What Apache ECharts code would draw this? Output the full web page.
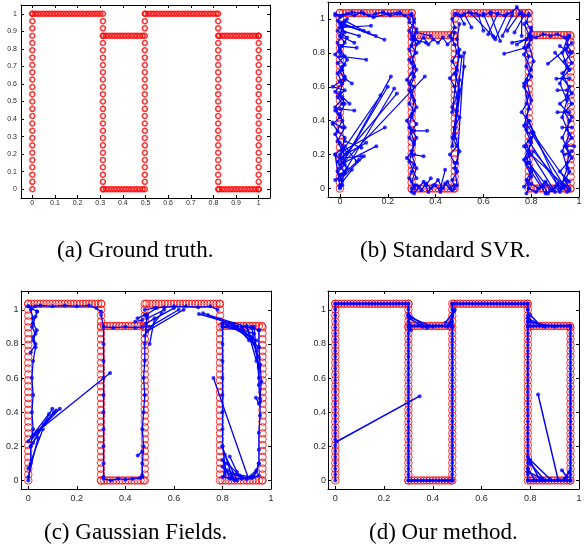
<!DOCTYPE html>
<html><head><meta charset="utf-8">
<script src="https://cdn.jsdelivr.net/npm/echarts@6/dist/echarts.min.js"></script>
<style>html,body{margin:0;padding:0;background:#fff}#c{width:585px;height:558px}</style>
</head><body><div id="c"></div>
<script>
// ---------- tick labels ----------
const ticksA = [0, 0.1, 0.2, 0.3, 0.4, 0.5, 0.6, 0.7, 0.8, 0.9, 1];
const ticksB = [0, 0.2, 0.4, 0.6, 0.8, 1];

// ---------- captions ----------
const captions = ['(a) Ground truth.', '(b) Standard SVR.', '(c) Gaussian Fields.', '(d) Our method.'];

// ---------- (a) ground truth point set ----------
const gtColX = [0, 0.312, 0.497, 0.821, 1.0];
const gtColTop = [1, 1, 1, 1, 0.875];
const gtColY = [0, 0.042, 0.083, 0.125, 0.167, 0.208, 0.25, 0.292, 0.333, 0.375, 0.417, 0.458, 0.5,
  0.542, 0.583, 0.625, 0.667, 0.708, 0.75, 0.792, 0.833, 0.875, 0.917, 0.958, 1];
const rowX = [0, 0.0125, 0.025, 0.0375, 0.05, 0.0625, 0.075, 0.0875, 0.1, 0.1125, 0.125, 0.1375, 0.15,
  0.1625, 0.175, 0.1875, 0.2, 0.2125, 0.225, 0.2375, 0.25, 0.2625, 0.275, 0.2875, 0.3, 0.3125, 0.325,
  0.3375, 0.35, 0.3625, 0.375, 0.3875, 0.4, 0.4125, 0.425, 0.4375, 0.45, 0.4625, 0.475, 0.4875, 0.5,
  0.5125, 0.525, 0.5375, 0.55, 0.5625, 0.575, 0.5875, 0.6, 0.6125, 0.625, 0.6375, 0.65, 0.6625, 0.675,
  0.6875, 0.7, 0.7125, 0.725, 0.7375, 0.75, 0.7625, 0.775, 0.7875, 0.8, 0.8125, 0.825, 0.8375, 0.85,
  0.8625, 0.875, 0.8875, 0.9, 0.9125, 0.925, 0.9375, 0.95, 0.9625, 0.975, 0.9875, 1];
// rows: [y, xFrom, xTo]
const gtRows = [[1, 0, 0.312], [0.875, 0.312, 0.497], [0, 0.312, 0.497], [1, 0.497, 0.821], [0.875, 0.821, 1], [0, 0.821, 1]];

// ---------- (b)(c)(d) red template ----------
const fitColX = [0, 0.30, 0.48, 0.79, 0.965];
const fitColTop = [1.035, 1.035, 1.035, 1.035, 0.905];
const fitColY = [0, 0.035, 0.069, 0.104, 0.138, 0.173, 0.207, 0.242, 0.276, 0.311, 0.345, 0.38, 0.414,
  0.449, 0.483, 0.518, 0.552, 0.587, 0.621, 0.656, 0.69, 0.725, 0.759, 0.794, 0.828, 0.863, 0.897,
  0.932, 0.966, 1.001, 1.035];
const fitRows = [[1.035, 0, 0.30], [0.905, 0.30, 0.48], [0, 0.30, 0.48], [1.035, 0.48, 0.79], [0.905, 0.79, 0.965], [0, 0.79, 0.965]];

// ---------- (b) Standard SVR blue ----------
const svrPaths = [
  [[0.0,0.0],[0.01,0.05],[-0.01,0.1],[0.02,0.14],[-0.02,0.2],[0.01,0.24],[0.02,0.3],[-0.01,0.34],[-0.03,0.38],[0.0,0.42],[-0.02,0.46],[0.01,0.5],[-0.01,0.54],[0.02,0.58],[-0.03,0.6],[0.0,0.63],[0.02,0.66],[0.01,0.7],[-0.01,0.74],[0.02,0.78],[0.0,0.82],[0.02,0.86],[0.0,0.9],[0.01,0.95],[-0.01,0.99],[0.01,1.02],[-0.02,1.03]],
  [[0.01,0.02],[0.0,0.08],[0.03,0.12],[0.0,0.18],[0.01,0.22],[-0.01,0.28],[0.02,0.36],[0.0,0.44],[0.02,0.5],[0.0,0.56],[0.01,0.62],[-0.01,0.68],[0.01,0.72],[0.03,0.76],[0.0,0.8],[-0.01,0.86],[0.02,0.92],[0.0,0.97],[0.03,1.0]],
  [[-0.02,0.05],[0.02,0.09],[-0.01,0.16],[0.03,0.21],[0.0,0.27],[-0.02,0.32],[0.01,0.4],[-0.02,0.48],[0.01,0.53],[-0.02,0.57],[0.02,0.64],[0.0,0.69],[0.02,0.73],[-0.02,0.79],[0.01,0.84],[0.03,0.89],[-0.01,0.93],[0.02,0.98]],
  [[-0.02,1.02],[0.03,1.03],[0.06,1.02],[0.09,1.04],[0.12,1.02],[0.15,1.03],[0.18,1.04],[0.21,1.02],[0.24,1.03],[0.27,1.02],[0.30,1.03]],
  [[0.0,1.01],[0.05,1.04],[0.1,1.03],[0.14,1.01],[0.2,1.03],[0.25,1.04],[0.29,1.0]],
  [[0.30,1.02],[0.31,0.98],[0.29,0.93],[0.31,0.88],[0.30,0.84],[0.32,0.8],[0.29,0.76],[0.31,0.72],[0.30,0.68],[0.28,0.64],[0.31,0.6],[0.30,0.55],[0.29,0.5],[0.31,0.46],[0.30,0.42],[0.32,0.38],[0.30,0.34],[0.29,0.3],[0.31,0.26],[0.30,0.22],[0.28,0.18],[0.31,0.14],[0.30,0.1],[0.29,0.06],[0.31,0.02],[0.30,-0.02]],
  [[0.31,1.0],[0.3,0.9],[0.32,0.85],[0.3,0.74],[0.31,0.66],[0.29,0.58],[0.31,0.52],[0.3,0.44],[0.29,0.36],[0.31,0.28],[0.3,0.2],[0.32,0.12],[0.3,0.04],[0.31,0.0]],
  [[0.29,0.98],[0.32,0.94],[0.29,0.82],[0.32,0.7],[0.29,0.62],[0.32,0.48],[0.28,0.4],[0.32,0.3],[0.29,0.16],[0.32,0.06]],
  [[0.31,0.9],[0.33,0.86],[0.35,0.89],[0.37,0.85],[0.39,0.88],[0.41,0.86],[0.43,0.89],[0.45,0.85],[0.47,0.88],[0.48,0.92]],
  [[0.30,0.0],[0.32,0.02],[0.34,-0.01],[0.36,0.03],[0.38,0.0],[0.4,0.02],[0.42,-0.02],[0.44,0.03],[0.46,0.0],[0.48,0.02]],
  [[0.31,-0.03],[0.33,0.01],[0.35,0.04],[0.37,-0.02],[0.39,0.02],[0.41,0.05],[0.43,0.0],[0.45,0.04],[0.47,-0.01]],
  [[0.48,0.0],[0.47,0.05],[0.49,0.1],[0.48,0.15],[0.46,0.2],[0.49,0.25],[0.47,0.3],[0.48,0.36],[0.5,0.42],[0.47,0.48],[0.49,0.54],[0.48,0.6],[0.46,0.65],[0.49,0.7],[0.47,0.75],[0.49,0.8],[0.48,0.85],[0.46,0.9],[0.48,0.95],[0.47,1.0],[0.49,1.03]],
  [[0.49,0.02],[0.48,0.12],[0.5,0.22],[0.48,0.32],[0.49,0.46],[0.5,0.58],[0.48,0.68],[0.5,0.78],[0.49,0.88],[0.5,0.97]],
  [[0.48,1.03],[0.51,1.02],[0.54,1.04],[0.57,1.03],[0.6,1.02],[0.63,1.04],[0.66,1.03],[0.69,1.02],[0.72,1.04],[0.74,1.07],[0.76,1.03],[0.79,1.02]],
  [[0.79,1.03],[0.78,0.98],[0.8,0.93],[0.78,0.88],[0.77,0.83],[0.79,0.78],[0.78,0.72],[0.8,0.66],[0.77,0.6],[0.79,0.55],[0.78,0.5],[0.76,0.45],[0.79,0.4],[0.78,0.35],[0.8,0.3],[0.77,0.25],[0.79,0.2],[0.78,0.15],[0.8,0.1],[0.78,0.05],[0.79,0.0],[0.78,-0.03]],
  [[0.8,0.95],[0.79,0.85],[0.81,0.75],[0.78,0.64],[0.8,0.52],[0.78,0.42],[0.81,0.33],[0.79,0.22],[0.8,0.12],[0.79,0.03]],
  [[0.77,0.97],[0.8,0.88],[0.77,0.79],[0.8,0.7],[0.77,0.62],[0.79,0.47],[0.77,0.37],[0.8,0.27],[0.77,0.17],[0.8,0.07],[0.77,0.01]],
  [[0.79,0.9],[0.82,0.89],[0.85,0.91],[0.88,0.9],[0.91,0.91],[0.94,0.89],[0.96,0.9]],
  [[0.96,0.9],[0.95,0.85],[0.97,0.8],[0.94,0.75],[0.96,0.7],[0.93,0.65],[0.96,0.6],[0.95,0.55],[0.97,0.5],[0.94,0.45],[0.96,0.4],[0.95,0.35],[0.97,0.3],[0.94,0.25],[0.96,0.2],[0.95,0.15],[0.96,0.1],[0.94,0.05],[0.96,0.0]],
  [[0.95,0.88],[0.93,0.8],[0.95,0.72],[0.92,0.62],[0.95,0.52],[0.93,0.42],[0.96,0.32],[0.93,0.22],[0.95,0.12],[0.93,0.03]],
  [[0.97,0.86],[0.94,0.82],[0.97,0.74],[0.93,0.68],[0.97,0.56],[0.92,0.5],[0.97,0.42],[0.93,0.3],[0.97,0.18],[0.92,0.1],[0.96,0.04]],
  [[0.79,0.0],[0.82,-0.02],[0.85,0.02],[0.87,-0.03],[0.9,0.01],[0.92,-0.02],[0.94,0.02],[0.96,-0.01]],
  [[0.8,0.03],[0.83,0.0],[0.86,0.04],[0.89,-0.01],[0.91,0.03],[0.93,0.0]]
];
// links: [x1, y1, x2, y2]
const svrLinks = [
  [0.0,0.98,0.186,0.877],[0.01,0.97,0.15,0.9],[0.0,0.95,0.13,0.96],[0.02,0.99,0.1,0.93],[0.01,0.93,0.08,0.9],[0.0,0.9,0.06,0.86],[0.02,0.96,0.12,0.92],
  [0.0,0.78,0.11,0.76],[0.0,0.84,0.07,0.83],[0.0,0.47,0.06,0.46],[0.01,0.54,0.04,0.5],[-0.03,0.39,0.01,0.36],[0.02,0.65,0.05,0.62],
  [0.0,0.12,0.213,0.66],[0.01,0.15,0.2,0.6],[0.02,0.1,0.227,0.59],[0.01,0.18,0.238,0.56],[0.0,0.2,0.17,0.55],[0.02,0.16,0.355,0.66],
  [0.01,0.22,0.188,0.36],[0.0,0.14,0.152,0.25],[0.02,0.2,0.11,0.27],[0.0,0.05,0.1,0.19],[0.01,0.08,0.08,0.17],[0.02,0.25,0.07,0.16],
  [0.0,0.02,0.05,0.11],[-0.02,0.2,0.0,0.01],[0.02,0.28,0.09,0.24],[0.01,0.18,0.09,0.19],
  [0.31,0.34,0.365,0.34],[0.31,0.2,0.35,0.19],[0.3,0.88,0.36,0.86],[0.32,0.92,0.38,0.9],
  [0.42,0.0,0.44,0.11],[0.36,0.02,0.38,0.06],
  [0.47,0.25,0.51,0.78],[0.48,0.35,0.52,0.72],[0.47,0.45,0.5,0.82],[0.49,0.15,0.52,0.8],[0.48,0.3,0.5,0.64],
  [0.55,1.03,0.645,0.89],[0.6,1.03,0.64,0.9],[0.7,1.03,0.65,0.88],[0.66,1.03,0.62,0.91],[0.58,1.02,0.6,0.93],[0.72,1.02,0.68,0.9],
  [0.75,1.03,0.7,0.93],[0.77,1.02,0.73,0.92],[0.52,1.03,0.55,0.95],[0.5,1.02,0.52,0.97],[0.76,1.04,0.76,0.9],[0.63,1.03,0.67,0.87],
  [0.687,0.795,0.786,0.834],[0.78,0.88,0.72,0.86],[0.8,0.9,0.74,0.85],
  [0.87,0.736,0.947,0.824],[0.96,0.65,0.905,0.648],[0.95,0.58,0.91,0.58],[0.96,0.45,0.91,0.45],[0.97,0.36,0.93,0.36],
  [0.95,0.25,0.98,0.25],[0.94,0.2,0.97,0.22],[0.92,0.84,0.96,0.8],[0.9,0.8,0.96,0.7],
  [0.8,0.33,0.94,0.01],[0.79,0.28,0.92,0.0],[0.78,0.25,0.9,-0.02],[0.8,0.2,0.93,0.03],[0.79,0.15,0.88,-0.01],
  [0.78,0.38,0.95,0.04],[0.8,0.1,0.86,-0.03],[0.79,0.4,0.91,0.02],[0.81,0.22,0.95,-0.02],[0.78,0.18,0.85,0.01]
];

// ---------- (c) Gaussian Fields blue ----------
const gfPaths = [
  [[0.0,0.0],[0.01,0.1],[0.01,0.2],[0.02,0.3],[0.015,0.4],[0.02,0.5],[0.015,0.6],[0.02,0.7],[0.03,0.78],[0.02,0.82],[0.03,0.86],[0.015,0.9],[0.02,0.95],[0.01,1.0],[0.03,1.02]],
  [[0.01,0.75],[0.03,0.8],[0.02,0.84],[0.035,0.88],[0.02,0.92],[0.03,0.96],[0.036,0.99]],
  [[0.0,1.02],[0.05,1.025],[0.1,1.02],[0.15,1.025],[0.2,1.02],[0.25,1.025],[0.28,1.01],[0.3,0.99]],
  [[0.3,0.97],[0.31,0.9],[0.31,0.8],[0.31,0.7],[0.31,0.6],[0.31,0.5],[0.31,0.4],[0.31,0.3],[0.31,0.2],[0.31,0.1],[0.31,0.02]],
  [[0.31,0.9],[0.35,0.895],[0.4,0.9],[0.44,0.895],[0.47,0.9]],
  [[0.31,0.01],[0.34,0.0],[0.37,0.01],[0.4,0.005],[0.43,0.01],[0.46,0.015],[0.47,0.03]],
  [[0.47,0.02],[0.47,0.1],[0.475,0.2],[0.47,0.3],[0.475,0.4],[0.48,0.5],[0.475,0.6],[0.48,0.7],[0.48,0.8],[0.485,0.9],[0.49,0.97]],
  [[0.48,1.0],[0.52,1.01],[0.56,1.015],[0.6,1.02],[0.65,1.02],[0.7,1.015],[0.75,1.02],[0.78,1.0]],
  [[0.8,0.92],[0.8,0.8],[0.8,0.7],[0.8,0.6],[0.8,0.5],[0.8,0.4],[0.8,0.3],[0.8,0.2],[0.81,0.1],[0.81,0.03]],
  [[0.8,0.9],[0.84,0.9],[0.88,0.9],[0.92,0.895],[0.95,0.88]],
  [[0.8,0.9],[0.88,0.88],[0.92,0.83],[0.94,0.76],[0.95,0.66],[0.95,0.56],[0.955,0.46]],
  [[0.95,0.88],[0.95,0.78],[0.955,0.68],[0.96,0.58],[0.955,0.48],[0.955,0.38],[0.95,0.28],[0.95,0.18],[0.95,0.1],[0.94,0.05],[0.92,0.02]],
  [[0.8,0.02],[0.84,0.01],[0.88,0.01],[0.92,0.015],[0.95,0.03]]
];
const gfLinks = [
  [0.036,0.99,0.0,1.02],[0.02,0.22,0.099,0.42],[0.015,0.25,0.13,0.42],[0.0,0.23,0.085,0.39],[0.02,0.26,0.115,0.41],
  [0.01,0.2,0.065,0.33],[0.03,0.27,0.105,0.4],[0.0,0.07,0.06,0.3],[0.04,0.29,0.337,0.63],[0.0,0.02,0.04,0.25],
  [0.451,0.146,0.47,0.17],
  [0.49,0.875,0.64,1.0],[0.485,0.92,0.6,1.01],[0.49,0.95,0.56,1.0],[0.48,0.85,0.55,0.98],[0.5,0.9,0.62,1.0],
  [0.485,0.97,0.53,1.01],[0.5,0.8,0.52,0.95],[0.48,0.97,0.45,0.95],[0.47,0.94,0.44,0.93],
  [0.703,0.975,0.848,0.916],[0.72,0.98,0.86,0.9],[0.74,0.97,0.9,0.9],
  [0.8,0.92,0.93,0.86],[0.82,0.91,0.94,0.82],[0.85,0.9,0.95,0.78],[0.88,0.9,0.93,0.8],[0.9,0.905,0.95,0.72],
  [0.92,0.9,0.95,0.66],[0.84,0.91,0.92,0.84],[0.86,0.9,0.91,0.82],[0.9,0.9,0.94,0.7],[0.93,0.9,0.95,0.6],
  [0.763,0.6,0.906,0.016],[0.938,0.485,0.95,0.45],
  [0.8,0.2,0.84,0.02],[0.81,0.15,0.86,0.0],[0.8,0.12,0.83,0.01],[0.82,0.1,0.87,0.03],[0.8,0.08,0.85,0.0],
  [0.81,0.05,0.88,0.02],[0.83,0.14,0.86,0.05],[0.82,0.06,0.9,0.01],[0.84,0.04,0.92,0.02],
  [0.93,0.02,0.95,0.1],[0.9,0.01,0.94,0.06]
];

// ---------- (d) Our method blue: matches follow the template, plus these ----------
const ourLinks = [
  [0.005,0.227,0.346,0.494],[0.832,0.504,0.914,0.006],
  [0.30,0.973,0.377,0.894],[0.30,0.96,0.40,0.9],[0.305,0.95,0.36,0.9],[0.30,0.97,0.31,0.88],
  [0.452,0.924,0.487,0.992],[0.46,0.9,0.48,0.96],[0.47,0.91,0.49,1.0],
  [0.79,0.95,0.86,0.9],[0.79,0.93,0.9,0.9],[0.8,0.97,0.84,0.91],[0.79,1.0,0.8,0.93],
  [0.79,0.14,0.84,0.0],[0.8,0.1,0.86,0.0],[0.79,0.07,0.82,0.0],[0.8,0.12,0.88,0.01],[0.79,0.05,0.85,0.01],
  [0.95,0.02,0.93,0.06],[0.96,0.05,0.94,0.01]
];

// ---------- helpers ----------
function templatePoints(colX, colTop, colY, rows) {
  const pts = [];
  colX.forEach((x, i) => colY.forEach(y => { if (y <= colTop[i] + 1e-9) pts.push([x, y]); }));
  rows.forEach(([y, a, b]) => rowX.forEach(x => { if (x >= a - 1e-9 && x <= b + 1e-9) pts.push([x, y]); }));
  return pts;
}
function templatePaths(colX, colTop, colY, rows) {
  const paths = [];
  colX.forEach((x, i) => paths.push(colY.filter(y => y <= colTop[i] + 1e-9).map(y => [x, y])));
  rows.forEach(([y, a, b]) => {
    const p = [[a, y]];
    rowX.forEach(x => { if (x > a && x < b) p.push([x, y]); });
    p.push([b, y]);
    paths.push(p);
  });
  return paths;
}
const BLUE = '#0000ff', RED = '#ff0000';
function redSeries(i, pts, size, bw) {
  return { type: 'scatter', xAxisIndex: i, yAxisIndex: i, data: pts, symbol: 'circle', symbolSize: size,
    itemStyle: { color: 'rgba(0,0,0,0)', borderColor: RED, borderWidth: bw }, silent: true, clip: true, z: 2 };
}
function blueSeries(i, paths, links, lw, ds) {
  const lineData = paths.map(p => ({ coords: p }))
    .concat(links.map(l => ({ coords: [[l[0], l[1]], [l[2], l[3]]] })));
  const dots = [];
  paths.forEach(p => p.forEach(pt => dots.push(pt)));
  links.forEach(l => { dots.push([l[0], l[1]]); dots.push([l[2], l[3]]); });
  return [
    { type: 'lines', coordinateSystem: 'cartesian2d', xAxisIndex: i, yAxisIndex: i, polyline: true,
      data: lineData, lineStyle: { color: BLUE, width: lw, opacity: 1 }, silent: true, clip: true, z: 3 },
    { type: 'scatter', xAxisIndex: i, yAxisIndex: i, data: dots, symbol: 'circle', symbolSize: ds,
      itemStyle: { color: BLUE }, silent: true, clip: true, z: 4 }
  ];
}

// ---------- layout ----------
const panels = [
  { grid: { left: 21, top: 5, width: 249, height: 193 }, x: [-0.05, 1.05], y: [-0.05, 1.05], xt: ticksA, yt: ticksA, fs: 7, xm: 1.5, ym: 4 },
  { grid: { left: 328, top: 2, width: 251, height: 195 }, x: [-0.05, 1.0], y: [-0.05, 1.1], xt: ticksB, yt: ticksB, fs: 9, xm: 0.5, ym: 3 },
  { grid: { left: 21, top: 291, width: 250, height: 198 }, x: [-0.03, 1.0], y: [-0.05, 1.11], xt: ticksB, yt: ticksB, fs: 9, xm: 5, ym: 2.5 },
  { grid: { left: 328, top: 291, width: 251, height: 198 }, x: [-0.03, 1.0], y: [-0.05, 1.11], xt: ticksB, yt: ticksB, fs: 9, xm: 5, ym: 2 }
];
const captionPos = [[57, 239], [360, 239], [44, 521], [369, 521]];

const FONT = '"Liberation Sans", Arial, sans-serif';
const grids = panels.map(p => Object.assign({ containLabel: false }, p.grid));
const xAxes = [], yAxes = [];
function axis(i, p, dim, mirror) {
  const vals = dim === 'x' ? p.xt : p.yt;
  const rng = dim === 'x' ? p.x : p.y;
  return {
    type: 'value', gridIndex: i, min: rng[0], max: rng[1],
    position: dim === 'x' ? (mirror ? 'top' : 'bottom') : (mirror ? 'right' : 'left'),
    axisLine: { show: true, onZero: false, lineStyle: { color: '#000', width: 1 } },
    axisTick: { show: true, inside: true, length: 3, customValues: vals, lineStyle: { color: '#000', width: 1 } },
    axisLabel: mirror ? { show: false } : {
      show: true, customValues: vals, fontSize: p.fs, color: '#2a2a2a', fontFamily: FONT,
      margin: dim === 'x' ? p.xm : p.ym
    },
    splitLine: { show: false }
  };
}
panels.forEach((p, i) => { xAxes[i] = axis(i, p, 'x', false); yAxes[i] = axis(i, p, 'y', false); });
panels.forEach((p, i) => { xAxes[4 + i] = axis(i, p, 'x', true); yAxes[4 + i] = axis(i, p, 'y', true); });

const gtPts = templatePoints(gtColX, gtColTop, gtColY, gtRows);
const fitPts = templatePoints(fitColX, fitColTop, fitColY, fitRows);
const ourPaths = templatePaths(fitColX, fitColTop, fitColY, fitRows);

const series = [redSeries(0, gtPts, 5, 1.5)]
  .concat([redSeries(1, fitPts, 7.5, 1)], blueSeries(1, svrPaths, svrLinks, 1.2, 4))
  .concat([redSeries(2, fitPts, 7.5, 1)], blueSeries(2, gfPaths, gfLinks, 1.3, 4))
  .concat([redSeries(3, fitPts, 7.5, 1)], blueSeries(3, ourPaths, ourLinks, 1.5, 4));

const graphic = captions.map((t, i) => ({
  type: 'text', left: captionPos[i][0], top: captionPos[i][1],
  style: { text: t, fill: '#000', font: '23px "Liberation Serif", "Times New Roman", serif' }
}));

const chart = echarts.init(document.getElementById('c'), null, { renderer: 'canvas' });
chart.setOption({
  animation: false, backgroundColor: '#fff',
  grid: grids, xAxis: xAxes, yAxis: yAxes, series: series, graphic: graphic
});
</script></body></html>
